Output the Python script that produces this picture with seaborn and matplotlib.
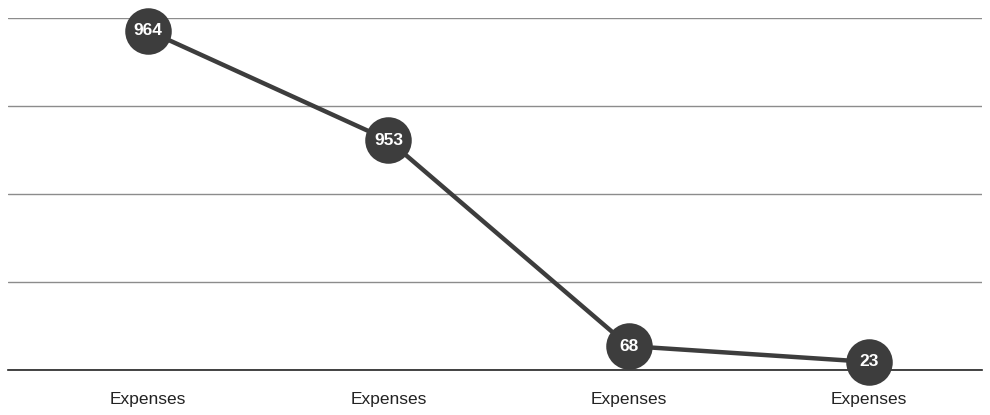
import matplotlib
matplotlib.use("Agg")
import matplotlib.pyplot as plt
import seaborn as sns
import pandas as pd

# Data
categories = ["Expenses", "Expenses", "Expenses", "Expenses"]
positions = [0, 1, 2, 3]
values = [964, 653, 68, 23]            # where the markers sit on the y scale
value_labels = ["964", "953", "68", "23"]  # text printed inside the markers

df = pd.DataFrame({"pos": positions, "value": values})

sns.set_style("white")
plt.rcParams['font.family'] = ['Liberation Sans', 'DejaVu Sans']

fig = plt.figure(figsize=(9.9, 4.15), dpi=100)
ax = fig.add_axes([8 / 990, 45 / 415, 974 / 990, 352 / 415])

line_color = "#3d3d3d"
sns.lineplot(data=df, x="pos", y="value", ax=ax, color=line_color, linewidth=3.2,
             marker="o", markersize=33.5, markeredgewidth=0, clip_on=False, zorder=3)

for x, y, lab in zip(positions, values, value_labels):
  ax.text(x, y, lab, ha="center", va="center", color="white", fontsize=12.5,
          fontweight="bold", zorder=4)

ax.set_xlim(-0.583, 3.47)
ax.set_ylim(0, 1000)
ax.set_yticks([0, 250, 500, 750, 1000])
ax.yaxis.grid(True, color="#8c8c8c", linewidth=1)
ax.set_yticklabels([])
ax.tick_params(axis="y", length=0)
ax.set_xticks(positions)
ax.set_xticklabels(categories, fontsize=12.5, color="#222222")
ax.tick_params(axis="x", length=0, pad=16)
ax.set_xlabel("")
ax.set_ylabel("")

for side in ["top", "left", "right"]:
  ax.spines[side].set_visible(False)
ax.spines["bottom"].set_color("#222222")
ax.spines["bottom"].set_linewidth(1.2)
ax.set_axisbelow(True)

fig.savefig("out.png", dpi=100)
